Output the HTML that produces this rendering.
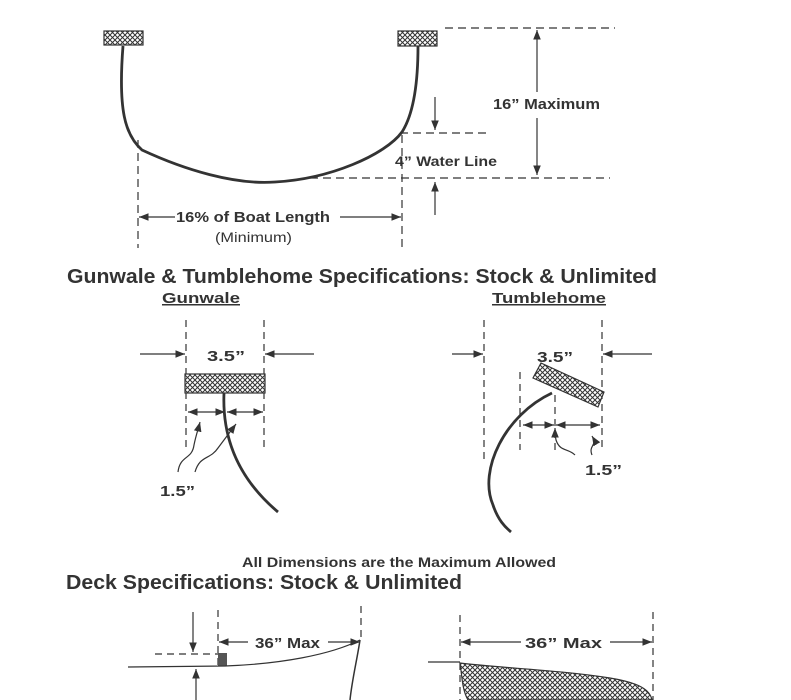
<!DOCTYPE html>
<html><head><meta charset="utf-8"><style>
html,body{margin:0;padding:0;background:#fff;}
svg{display:block}
text{font-family:"Liberation Sans",Arial,sans-serif;font-weight:bold;fill:#333;}
</style></head><body>
<svg width="791" height="700" viewBox="0 0 791 700" xmlns="http://www.w3.org/2000/svg">
<defs>
<pattern id="h" width="5" height="5" patternUnits="userSpaceOnUse">
<rect width="5" height="5" fill="#fff"/>
<path d="M0,0L5,5M5,0L0,5" stroke="#333" stroke-width="1"/>
</pattern>
<marker id="a" viewBox="0 0 10 10" refX="10" refY="5" markerWidth="8" markerHeight="8" orient="auto-start-reverse">
<path d="M0,1L10,5L0,9z" fill="#333"/>
</marker>
</defs>
<g stroke="#333" fill="none" stroke-width="1.2">
<rect x="104" y="31" width="39" height="14" fill="url(#h)"/>
<rect x="398" y="31" width="39" height="15" fill="url(#h)"/>
<path d="M123,46 C118,110 125,135 142,150 C185,170 235,185 275,182 C330,179 385,155 402,132 C416,110 418,70 418,46" stroke-width="2.8"/>
<g stroke-dasharray="8,5">
<line x1="445" y1="28" x2="615" y2="28"/>
<line x1="400" y1="133" x2="490" y2="133"/>
<line x1="310" y1="178" x2="610" y2="178"/>
<line x1="138" y1="140" x2="138" y2="248"/>
<line x1="402" y1="135" x2="402" y2="248"/>
</g>
<line x1="537" y1="92" x2="537" y2="30" marker-end="url(#a)"/>
<line x1="537" y1="118" x2="537" y2="175" marker-end="url(#a)"/>
<line x1="435" y1="97" x2="435" y2="130" marker-end="url(#a)"/>
<line x1="435" y1="215" x2="435" y2="182" marker-end="url(#a)"/>
<line x1="175" y1="217" x2="139" y2="217" marker-end="url(#a)"/>
<line x1="340" y1="217" x2="401" y2="217" marker-end="url(#a)"/>

<g stroke-dasharray="7,5">
<line x1="186" y1="320" x2="186" y2="450"/>
<line x1="264" y1="320" x2="264" y2="450"/>
</g>
<line x1="140" y1="354" x2="185" y2="354" marker-end="url(#a)"/>
<line x1="314" y1="354" x2="265" y2="354" marker-end="url(#a)"/>
<rect x="185" y="374" width="80" height="19" fill="url(#h)"/>
<line x1="188" y1="412" x2="225" y2="412" marker-start="url(#a)" marker-end="url(#a)"/>
<line x1="227" y1="412" x2="263" y2="412" marker-start="url(#a)" marker-end="url(#a)"/>
<path d="M224,393 C222,440 240,480 278,512" stroke-width="2.8"/>
<path d="M178,472 C180,455 192,460 194,445 C196,435 198,430 200,422" marker-end="url(#a)"/>
<path d="M195,472 C200,455 210,460 218,448 C224,440 230,432 236,424" marker-end="url(#a)"/>

<g stroke-dasharray="7,5">
<line x1="484" y1="320" x2="484" y2="460"/>
<line x1="602" y1="320" x2="602" y2="450"/>
<line x1="520" y1="372" x2="520" y2="450"/>
<line x1="555" y1="395" x2="555" y2="450"/>
</g>
<line x1="452" y1="354" x2="483" y2="354" marker-end="url(#a)"/>
<line x1="652" y1="354" x2="603" y2="354" marker-end="url(#a)"/>
<polygon points="541,363 604,392 598,407 533,378" fill="url(#h)"/>
<line x1="523" y1="425" x2="554" y2="425" marker-start="url(#a)" marker-end="url(#a)"/>
<line x1="556" y1="425" x2="600" y2="425" marker-start="url(#a)" marker-end="url(#a)"/>
<path d="M552,393 C505,415 478,470 493,505 C498,520 505,527 511,532" stroke-width="2.8"/>
<path d="M575,455 C568,448 560,452 556,440 C555,435 555,430 555,428" marker-end="url(#a)"/>
<path d="M592,455 C588,445 598,446 592,436" marker-end="url(#a)"/>

<line x1="193" y1="612" x2="193" y2="652" marker-end="url(#a)"/>
<line x1="196" y1="700" x2="196" y2="669" marker-end="url(#a)"/>
<g stroke-dasharray="7,5">
<line x1="155" y1="654" x2="218" y2="654"/>
<line x1="218" y1="610" x2="218" y2="665"/>
<line x1="361" y1="606" x2="361" y2="640"/>
<line x1="460" y1="615" x2="460" y2="700"/>
<line x1="653" y1="612" x2="653" y2="700"/>
</g>
<rect x="218" y="653" width="9" height="13" fill="#555" stroke="none"/>
<path d="M128,667 L225,666 C280,664 330,655 360,640"/>
<path d="M360,640 C357,660 352,680 350,700" stroke-width="1.5"/>
<line x1="248" y1="642" x2="219" y2="642" marker-end="url(#a)"/>
<line x1="328" y1="642" x2="360" y2="642" marker-end="url(#a)"/>
<path d="M428,662 L460,662"/>
<path d="M460,663 C500,668 560,670 610,678 C640,683 650,690 652,700 L468,700 C462,690 462,675 460,663z" fill="url(#h)"/>
<line x1="521" y1="642" x2="461" y2="642" marker-end="url(#a)"/>
<line x1="610" y1="642" x2="652" y2="642" marker-end="url(#a)"/>
</g>

<text x="493" y="109" font-size="15" textLength="107" lengthAdjust="spacingAndGlyphs">16” Maximum</text>
<text x="395" y="166" font-size="13.5" textLength="102" lengthAdjust="spacingAndGlyphs">4” Water Line</text>
<text x="176" y="222" font-size="15" textLength="154" lengthAdjust="spacingAndGlyphs">16% of Boat Length</text>
<text x="215" y="242" font-size="13.5" style="font-weight:normal" textLength="77" lengthAdjust="spacingAndGlyphs">(Minimum)</text>
<text x="67" y="283" font-size="20" textLength="590" lengthAdjust="spacingAndGlyphs">Gunwale &amp; Tumblehome Specifications: Stock &amp; Unlimited</text>
<text x="162" y="303" font-size="15" text-decoration="underline" textLength="78" lengthAdjust="spacingAndGlyphs">Gunwale</text>
<text x="492" y="303" font-size="15" text-decoration="underline" textLength="114" lengthAdjust="spacingAndGlyphs">Tumblehome</text>
<text x="207" y="361" font-size="15" textLength="38" lengthAdjust="spacingAndGlyphs">3.5”</text>
<text x="537" y="362" font-size="15" textLength="36" lengthAdjust="spacingAndGlyphs">3.5”</text>
<text x="160" y="496" font-size="15" textLength="35" lengthAdjust="spacingAndGlyphs">1.5”</text>
<text x="585" y="475" font-size="15" textLength="37" lengthAdjust="spacingAndGlyphs">1.5”</text>
<text x="242" y="567" font-size="13.5" textLength="314" lengthAdjust="spacingAndGlyphs">All Dimensions are the Maximum Allowed</text>
<text x="66" y="589" font-size="20" textLength="396" lengthAdjust="spacingAndGlyphs">Deck Specifications: Stock &amp; Unlimited</text>
<text x="255" y="648" font-size="15" textLength="65" lengthAdjust="spacingAndGlyphs">36” Max</text>
<text x="525" y="648" font-size="15" textLength="77" lengthAdjust="spacingAndGlyphs">36” Max</text>
</svg>
</body></html>
